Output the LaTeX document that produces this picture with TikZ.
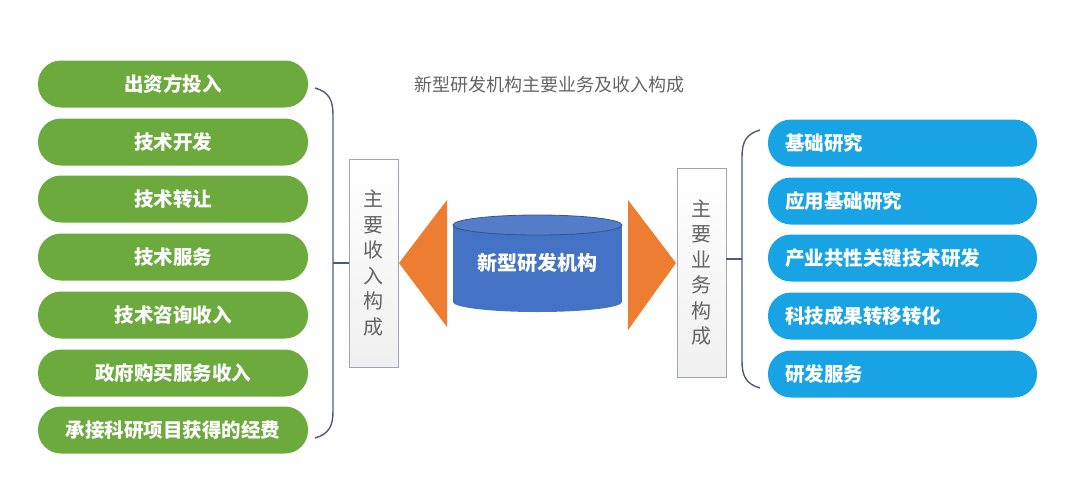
\documentclass[tikz,border=0pt]{standalone}
\usepackage{fontspec}
\setmainfont{Noto Sans CJK SC}
\definecolor{pillgreen}{RGB}{108,170,62}
\definecolor{pillblue}{RGB}{24,163,228}
\definecolor{cylblue}{RGB}{68,114,196}
\definecolor{arrorange}{RGB}{237,125,49}
\definecolor{bracketcol}{RGB}{78,90,116}
\definecolor{boxline}{RGB}{160,166,176}
\definecolor{titlegray}{RGB}{100,100,100}
\begin{document}
\begin{tikzpicture}[x=1pt,y=-1pt,
greennode/.style={fill=pillgreen, rounded corners=23pt, minimum width=270pt, minimum height=47pt, text=white, font=\fontsize{19.5}{22}\selectfont\bfseries},
bluenode/.style={fill=pillblue, rounded corners=23pt, text width=235pt, inner xsep=17pt, minimum height=47pt, align=left, text=white, font=\fontsize{19.5}{22}\selectfont\bfseries},
boxnode/.style={draw=boxline, top color=white, bottom color=gray!12, minimum width=49pt, align=center, text=titlegray, font=\fontsize{20}{25.5}\selectfont},
bracket/.style={draw=bracketcol, line width=1.4pt},
]
    \useasboundingbox (0,0) rectangle (1066,491);
    \node[text=titlegray, font=\fontsize{18}{22}\selectfont](t) at (549,85) {新型研发机构主要业务及收入构成} ;
    \node[greennode](i1) at (173,84) {出资方投入} ;
    \node[greennode](i2) at (173,142) {技术开发} ;
    \node[greennode](i3) at (173,199) {技术转让} ;
    \node[greennode](i4) at (173,257) {技术服务} ;
    \node[greennode](i5) at (173,315) {技术咨询收入} ;
    \node[greennode](i6) at (173,373) {政府购买服务收入} ;
    \node[greennode](i7) at (173,430) {承接科研项目获得的经费} ;
    \node[bluenode](o1) at (902.5,143) {基础研究} ;
    \node[bluenode](o2) at (902.5,201) {应用基础研究} ;
    \node[bluenode](o3) at (902.5,258) {产业共性关键技术研发} ;
    \node[bluenode](o4) at (902.5,316) {科技成果转移转化} ;
    \node[bluenode](o5) at (902.5,374) {研发服务} ;
    \node[boxnode, minimum height=208pt](inbox) at (373.5,263) {主\\要\\收\\入\\构\\成} ;
    \node[boxnode, minimum height=209pt](outbox) at (701.5,272.5) {主\\要\\业\\务\\构\\成} ;
    % brackets
    \draw[bracket] (315,88) .. controls (329,92) and (333,100) .. (333,115) -- (333,411) .. controls (333,426) and (329,434) .. (315,438);
    \coordinate (lb) at (333,263);
    \draw[bracket] (lb) -- (lb -| inbox.west);
    \draw[bracket] (760,130) .. controls (746,134) and (742,142) .. (742,157) -- (742,361) .. controls (742,376) and (746,384) .. (760,388);
    \coordinate (rb) at (742,259);
    \draw[bracket] (rb) -- (rb -| outbox.east);
    % arrows and cylinder
    \fill[arrorange] (447,200) -- (399,263) -- (447,327) -- cycle;
    \fill[arrorange] (628,200) -- (676,263) -- (628,330) -- cycle;
    \fill[cylblue] (453,225) rectangle (622,302);
    \fill[cylblue] (537.5,302) ellipse [x radius=84.5, y radius=10];
    \filldraw[fill=cylblue!92!white, draw=cylblue!75!black, line width=0.8pt] (537.5,225) ellipse [x radius=84.5, y radius=10];
    \node[text=white, font=\fontsize{20}{24}\selectfont\bfseries](core) at (537.5,263) {新型研发机构} ;
\end{tikzpicture}
\end{document}
